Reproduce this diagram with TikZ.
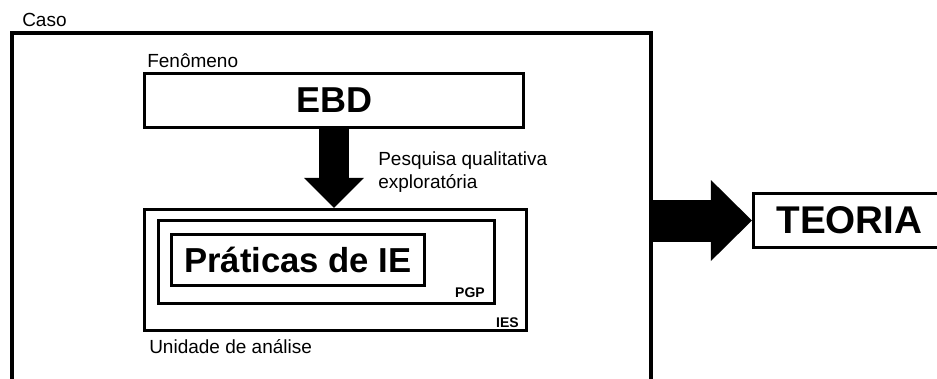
\documentclass[tikz,border=0pt]{standalone}
\usepackage{fontspec}
\setmainfont{Liberation Sans}
\usetikzlibrary{arrows.meta, positioning}

\newlength{\pxu}\setlength{\pxu}{0.75pt}

\tikzset{
    box/.style={draw, rectangle, line width=2.4pt, inner sep=0pt},
    lbl/.style={inner sep=0pt, font=\fontsize{14.25}{17}\selectfont},
    tag/.style={inner sep=0pt, font=\fontsize{10.5}{12}\selectfont\bfseries},
    downarrow/.style={line width=22pt, -{Triangle[width=45pt, length=22.5pt, line width=0pt]}},
    rightarrow/.style={line width=31.5pt, -{Triangle[width=60.75pt, length=30.75pt, line width=0pt]}}
}

\begin{document}
\begin{tikzpicture}[x=0.75pt,y=0.75pt,yscale=-1,xscale=1]
    \useasboundingbox (0,0) rectangle (937,378);
    \clip (0,0) rectangle (937,378);

    %Shape: Rectangle [caso] 
    \node[box, line width=3pt, minimum width=639\pxu, minimum height=367\pxu] (caso) at (331.5,216.5) {};
    %Shape: Rectangle [ebd] 
    \node[box, minimum width=379\pxu, minimum height=54\pxu, font=\fontsize{27}{30}\selectfont\bfseries] (ebd) at (334,100.5) {EBD};
    %Shape: Rectangle [ies] 
    \node[box, minimum width=382\pxu, minimum height=121\pxu] (ies) at (335.5,270) {};
    %Shape: Rectangle [pgp] 
    \node[box, minimum width=336\pxu, minimum height=83\pxu] (pgp) at (326.5,262) {};
    %Shape: Rectangle [praticas] 
    \node[box, minimum width=253\pxu, minimum height=51\pxu, font=\fontsize{26}{29}\selectfont\bfseries] (praticas) at (298,260) {Práticas de IE};
    %Shape: Rectangle [teoria] 
    \node[box, minimum width=192\pxu, minimum height=54\pxu, font=\fontsize{29}{32}\selectfont\bfseries] (teoria) at (849.5,220.5) {TEORIA};

    %Block Arrows 
    \draw[downarrow] (ebd.south) -- (ebd.south |- ies.north);
    \draw[rightarrow] (teoria.west -| caso.east) -- (teoria.west);

    % Text Node
    \node[lbl, anchor=base west] (casolbl) at (22,26.5) {Caso};
    % Text Node
    \node[lbl, anchor=base west] (fenlbl) at (147,68) {Fenômeno};
    % Text Node
    \node[lbl, anchor=base west] (pesq) at (378,165) {Pesquisa qualitativa};
    % Text Node
    \node[lbl, anchor=base west] (explo) at (378,188) {exploratória};
    % Text Node
    \node[lbl, anchor=base west] (unilbl) at (149,353) {Unidade de análise};
    % Text Node
    \node[tag, anchor=base east] (pgplbl) at (485,297) {PGP};
    % Text Node
    \node[tag, anchor=base east] (ieslbl) at (519,327) {IES};

\end{tikzpicture}
\end{document}
